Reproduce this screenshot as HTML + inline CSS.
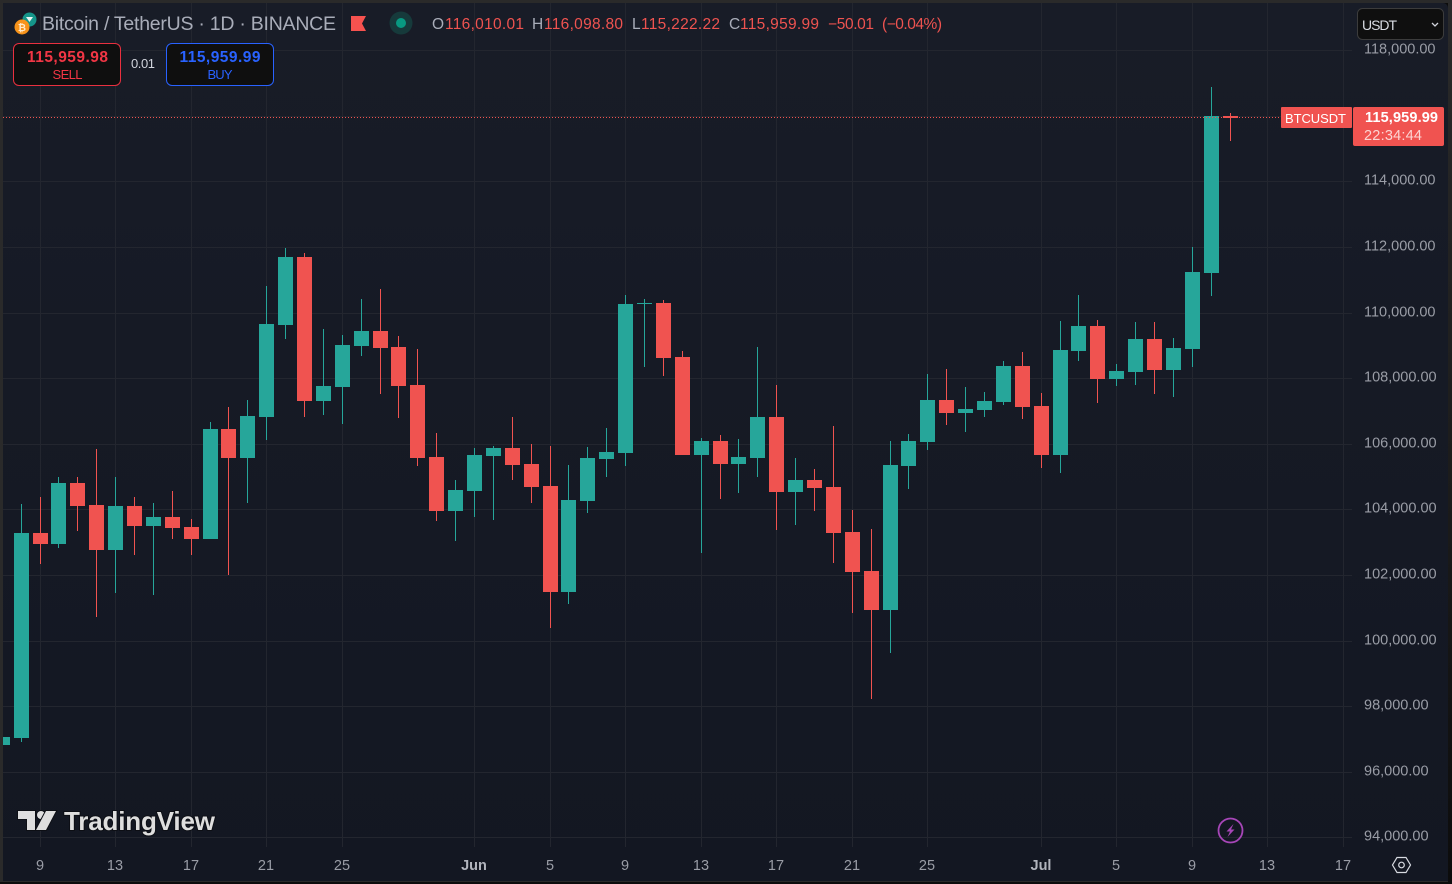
<!DOCTYPE html>
<html lang="en">
<head>
<meta charset="utf-8">
<title>BTCUSDT 1D Chart</title>
<style>
html,body{margin:0;padding:0;background:#0a0a0a;}
#chart-root{position:relative;width:1452px;height:884px;overflow:hidden;background:#0c0c0c;}
#chart-bg{position:absolute;left:3px;top:3px;width:1445px;height:878px;border-radius:0 5px 0 0;background:linear-gradient(180deg,#181c27 0%,#131722 100%);}
#frame-left{position:absolute;left:0;top:0;width:3px;height:882px;background:#2a2a2a;}
#frame-top{position:absolute;left:0;top:0;width:1452px;height:3px;background:#2a2a2a;}
#frame-right{position:absolute;left:1448px;top:0;width:4px;height:884px;background:linear-gradient(180deg,#2a2a2a 0%,#1a1a1a 60%,#0c0c0c 100%);}
#frame-bottom{position:absolute;left:0;top:881px;width:1448px;height:1px;background:#2a2a2a;}
svg{position:absolute;left:0;top:0;}
text{font-family:"Liberation Sans",sans-serif;}
</style>
</head>
<body>
<div id="chart-root">
<div id="chart-bg"></div>
<svg id="chart" width="1452" height="884" viewBox="0 0 1452 884">
  <g id="grid-layer"></g>
  <g id="candle-layer"></g>
  <g id="price-line-layer"></g>
  <g id="y-axis-layer"></g>
  <g id="x-axis-layer"></g>

  <g>
    <circle cx="29.5" cy="19.5" r="7" fill="#15958a"/>
    <path d="M26 17h7l-3.500 5z" fill="#e9f5f3"/>
    <circle cx="22" cy="27" r="7.500" fill="#f7931a"/>
    <text x="22" y="31" text-anchor="middle" font-size="10" font-weight="700" fill="#ffe9c9">₿</text>
  </g>
  <text x="42" y="30" font-size="19.500" fill="#a9adb9" textLength="294">Bitcoin / TetherUS · 1D · BINANCE</text>
  <path d="M351 16h15l-4 7.500 4 7.500h-15z" fill="#f6524f"/>
  <circle cx="401" cy="23" r="11.500" fill="#163a3b"/>
  <circle cx="401" cy="23" r="5" fill="#089981"/>

  <g font-size="15.500">
    <text x="432" y="29" fill="#a9adb9">O</text>
    <text x="445" y="29" fill="#ef5350" textLength="79">116,010.01</text>
    <text x="532" y="29" fill="#a9adb9">H</text>
    <text x="544" y="29" fill="#ef5350" textLength="79">116,098.80</text>
    <text x="632" y="29" fill="#a9adb9">L</text>
    <text x="641" y="29" fill="#ef5350" textLength="79">115,222.22</text>
    <text x="729" y="29" fill="#a9adb9">C</text>
    <text x="740" y="29" fill="#ef5350" textLength="79">115,959.99</text>
    <text x="828" y="29" fill="#ef5350" textLength="46">−50.01</text>
    <text x="882" y="29" fill="#ef5350" textLength="60">(−0.04%)</text>
  </g>

  <g>
    <rect x="13.500" y="43.500" width="107" height="42" rx="5.500" fill="#0f0f0f" stroke="#e9303f"/>
    <text x="67.500" y="62" text-anchor="middle" font-size="15.500" font-weight="700" fill="#f23645" textLength="81">115,959.98</text>
    <text x="67.500" y="79" text-anchor="middle" font-size="13" fill="#f23645" textLength="30">SELL</text>
  </g>
  <text x="131" y="68" font-size="13" fill="#d1d4dc" textLength="24">0.01</text>
  <g>
    <rect x="166.500" y="43.500" width="107" height="42" rx="5.500" fill="#0f0f0f" stroke="#2962ff"/>
    <text x="220" y="62" text-anchor="middle" font-size="15.500" font-weight="700" fill="#2962ff" textLength="81">115,959.99</text>
    <text x="220" y="79" text-anchor="middle" font-size="13" fill="#2962ff" textLength="25">BUY</text>
  </g>

  <g>
    <rect x="1357.500" y="8.500" width="86" height="31" rx="5" fill="#0f0f0f" stroke="#3c3c3c"/>
    <text x="1362" y="30" font-size="14" fill="#d8dbe2" textLength="35">USDT</text>
    <path d="M1432 23l3 3 3-3" fill="none" stroke="#d1d4dc" stroke-width="1.300"/>
  </g>

  <g>
    <rect x="1281" y="107" width="71" height="21" rx="1" fill="#f05350"/>
    <text x="1285" y="123" font-size="13" fill="#ffffff" textLength="61">BTCUSDT</text>
    <rect x="1353" y="107" width="91" height="39" rx="2" fill="#f05350"/>
    <text x="1365" y="122" font-size="14.500" font-weight="700" fill="#ffffff" textLength="73">115,959.99</text>
    <text x="1364" y="140" font-size="14.500" fill="#fcd4d2" textLength="58">22:34:44</text>
  </g>

  <g>
    <g fill="#dedede" stroke="#0d0f15" stroke-width="2" paint-order="stroke">
      <path d="M18 811h17v19h-8v-11h-9z"/>
      <circle cx="41" cy="815" r="4"/>
      <path d="M46 811h10l-10 19h-10z"/>
    </g>
    <text x="64" y="830" font-size="26" font-weight="700" fill="#dedede" stroke="#0d0f15" stroke-width="2" paint-order="stroke" textLength="151">TradingView</text>
  </g>

  <g>
    <circle cx="1230.500" cy="830.500" r="12" fill="none" stroke="#a746b8" stroke-width="1.800"/>
    <path d="M1233.500 824l-7 7.500h3.500l-2.500 5.500 7-7.500h-3.500z" fill="#a746b8"/>
  </g>
  <g fill="none" stroke="#d8dbe2" stroke-width="1.200">
    <path d="M1397 857.500h9l4.500 7.500-4.500 7.500h-9l-4.500-7.500z"/>
    <circle cx="1401.500" cy="865" r="2.800"/>
  </g>
</svg>
<div id="frame-left"></div>
<div id="frame-top"></div>
<div id="frame-right"></div>
<div id="frame-bottom"></div>
</div>
<script>
const dates = [
'2025-05-07','2025-05-08','2025-05-09','2025-05-10','2025-05-11','2025-05-12','2025-05-13','2025-05-14','2025-05-15','2025-05-16','2025-05-17',
'2025-05-18','2025-05-19','2025-05-20','2025-05-21','2025-05-22','2025-05-23','2025-05-24','2025-05-25','2025-05-26','2025-05-27','2025-05-28',
'2025-05-29','2025-05-30','2025-05-31','2025-06-01','2025-06-02','2025-06-03','2025-06-04','2025-06-05','2025-06-06','2025-06-07','2025-06-08',
'2025-06-09','2025-06-10','2025-06-11','2025-06-12','2025-06-13','2025-06-14','2025-06-15','2025-06-16','2025-06-17','2025-06-18','2025-06-19',
'2025-06-20','2025-06-21','2025-06-22','2025-06-23','2025-06-24','2025-06-25','2025-06-26','2025-06-27','2025-06-28','2025-06-29','2025-06-30',
'2025-07-01','2025-07-02','2025-07-03','2025-07-04','2025-07-05','2025-07-06','2025-07-07','2025-07-08','2025-07-09','2025-07-10','2025-07-11'];
const opens = [
96815,97029,103280,102945,104805,104134,102762,104104,103494,103768,103463,
103097,106452,105567,106818,109623,111697,107306,107732,108983,109440,108952,
107793,105598,103951,104561,105628,105872,105384,104713,101481,104256,105537,
105720,110264,110294,108647,105659,106086,105384,105567,106818,104530,104896,
104683,103311,102121,100932,105323,106055,107336,106940,107031,107275,108373,
107153,105659,108830,109593,107976,108190,109196,108251,108891,111209,116010];
const highs = [
97059,104165,104378,104988,104988,105842,104988,104378,104195,104561,103707,
106665,107123,107336,110812,111971,111819,109501,109318,110416,110721,109288,
108891,106330,104896,105872,105933,106818,105994,105933,105354,105903,106482,
110538,110416,110385,108830,106177,106269,106147,108952,107793,105567,105232,
106543,103982,103402,106086,106299,108129,108281,107732,107580,108525,108800,
107549,109745,110538,109776,108434,109715,109715,109227,112002,116881,116099];
const lows = [
96815,96907,102335,102823,103341,100719,101450,102609,101389,103097,102609,
103097,101999,104195,106116,109196,106818,106879,106604,108678,107519,106787,
105323,103646,103036,103768,103677,104896,104195,100383,101115,103890,104988,
105323,108342,108068,105659,102670,104317,104500,104988,103372,103524,103951,
102365,100841,98218,99621,104622,105811,106574,106360,106818,107184,106757,
105262,105110,108525,107245,107763,107793,107519,107427,108342,110507,115222];
const closes = [
97059,103280,102945,104805,104104,102762,104104,103494,103768,103433,103097,
106452,105567,106848,109654,111697,107306,107763,109013,109440,108922,107763,
105567,103951,104591,105659,105872,105354,104683,101481,104286,105567,105750,
110264,110294,108617,105659,106086,105384,105598,106818,104530,104896,104652,
103280,102091,100932,105354,106086,107336,106940,107062,107306,108373,107123,
105659,108861,109593,107976,108220,109196,108251,108922,111239,115997,115940];
const priceTicks = [118000,114000,112000,110000,108000,106000,104000,102000,100000,98000,96000,94000];
const priceGridLevels = [118000,116000,114000,112000,110000,108000,106000,104000,102000,100000,98000,96000,94000];
const priceTickLabels = ['118,000.00','114,000.00','112,000.00','110,000.00','108,000.00','106,000.00','104,000.00','102,000.00','100,000.00','98,000.00','96,000.00','94,000.00'];
const timeTicks = ['2025-05-09','2025-05-13','2025-05-17','2025-05-21','2025-05-25','2025-06-01','2025-06-05','2025-06-09','2025-06-13','2025-06-17','2025-06-21','2025-06-25','2025-07-01','2025-07-05','2025-07-09','2025-07-13','2025-07-17'];
const timeTickLabels = ['9','13','17','21','25','Jun','5','9','13','17','21','25','Jul','5','9','13','17'];
const lastPrice = 115959.99;

const SVG_NS = 'http://www.w3.org/2000/svg';
const UP = '#26a69a';
const DOWN = '#f05350';
const dayNumber = d => Date.parse(d + 'T00:00:00Z') / 86400000;
const firstDay = dayNumber(dates[0]);
const xScale = d => Math.floor(2.26 + 18.89 * (dayNumber(d) - firstDay));
const yRaw = p => 50.3 + (118000 - p) * 0.032792;
const yScale = p => Math.round(yRaw(p));

const gridLayer = document.getElementById('grid-layer');
const candleLayer = document.getElementById('candle-layer');
const lineLayer = document.getElementById('price-line-layer');
const yLayer = document.getElementById('y-axis-layer');
const xLayer = document.getElementById('x-axis-layer');

function makeRect(x, y, w, h, fill) {
  const r = document.createElementNS(SVG_NS, 'rect');
  r.setAttribute('x', x);
  r.setAttribute('y', y);
  r.setAttribute('width', w);
  r.setAttribute('height', h);
  r.setAttribute('fill', fill);
  return r;
}

priceGridLevels.forEach(function (p) {
  const line = makeRect(3, yScale(p), 1349, 1, '#23262f');
  
  
  gridLayer.appendChild(line);
});
timeTicks.forEach(function (d) {
  const line = makeRect(xScale(d), 3, 1, 844, '#23262f');
  
  
  gridLayer.appendChild(line);
});

dates.forEach(function (d, i) {
  const px = xScale(d);
  const color = closes[i] >= opens[i] ? UP : DOWN;
  const top = yScale(Math.max(opens[i], closes[i]));
  const bottom = yScale(Math.min(opens[i], closes[i]));
  const wickTop = yScale(highs[i]);
  const wickBottom = yScale(lows[i]);
  const wick = makeRect(px, wickTop, 1, Math.max(1, wickBottom - wickTop), color);
  
  
  candleLayer.appendChild(wick);
  const body = makeRect(px - 7, top, 15, Math.max(1, bottom - top), color);
  
  
  candleLayer.appendChild(body);
});

const dotted = document.createElementNS(SVG_NS, 'line');
dotted.setAttribute('x1', 3);
dotted.setAttribute('x2', 1281);
dotted.setAttribute('y1', yScale(lastPrice) + 0.5);
dotted.setAttribute('y2', yScale(lastPrice) + 0.5);
dotted.setAttribute('stroke', '#f05350');
dotted.setAttribute('stroke-width', 1);
dotted.setAttribute('stroke-dasharray', '1 2');


lineLayer.appendChild(dotted);

priceTicks.forEach(function (p, i) {
  const t = document.createElementNS(SVG_NS, 'text');
  t.setAttribute('x', 1364);
  t.setAttribute('y', yScale(p) + 3.5);
  t.setAttribute('font-size', 14.5);
  t.setAttribute('fill', '#9a9da6');
  t.textContent = priceTickLabels[i];
  
  
  yLayer.appendChild(t);
});

timeTicks.forEach(function (d, i) {
  const t = document.createElementNS(SVG_NS, 'text');
  t.setAttribute('x', xScale(d));
  t.setAttribute('y', 870);
  t.setAttribute('text-anchor', 'middle');
  t.setAttribute('font-size', 14.5);
  t.setAttribute('fill', timeTickLabels[i] === 'Jun' || timeTickLabels[i] === 'Jul' ? '#b2b5be' : '#9a9da6');
  t.setAttribute('font-weight', timeTickLabels[i] === 'Jun' || timeTickLabels[i] === 'Jul' ? '700' : '400');
  t.textContent = timeTickLabels[i];
  
  
  xLayer.appendChild(t);
});
</script>
</body>
</html>
